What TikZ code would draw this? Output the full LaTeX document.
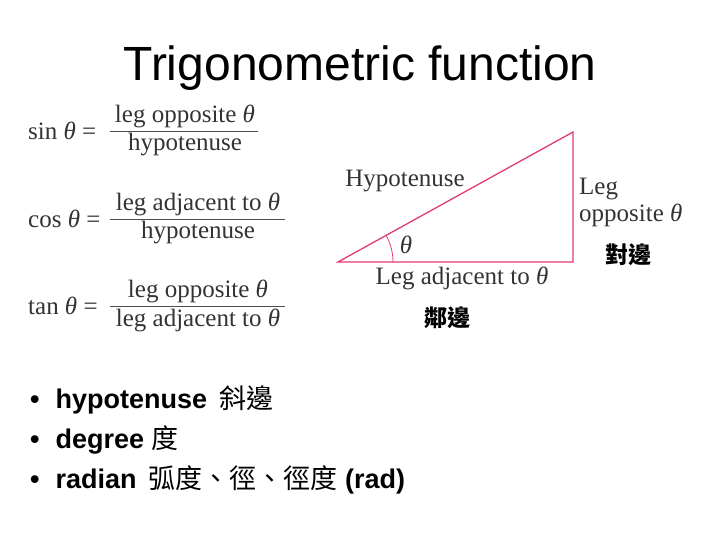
\documentclass[tikz,border=0pt]{standalone}
\usepackage{fontspec}
\setmainfont{Liberation Serif}
\newfontfamily\arialf{Liberation Sans}
\newfontfamily\cjk{Noto Sans CJK TC}
\begin{document}
\begin{tikzpicture}[x=1pt,y=-1pt,
  frm/.style={font=\fontsize{25}{27}\selectfont, text=black!80, inner sep=0pt},
  tri/.style={draw={rgb,255:red,225;green,60;blue,110}, line width=1.3pt},
  lbl/.style={font=\fontsize{25}{27}\selectfont, text=black!80, inner sep=0pt},
  blt/.style={font=\arialf\bfseries\fontsize{27}{29}\selectfont, anchor=west, inner sep=0pt}]
\useasboundingbox (0,0) rectangle (720,540);
\node[font=\arialf\fontsize{48}{50}\selectfont] (title) at (360,68) {Trigonometric function};
% sin
\node[frm, anchor=west] (sinl) at (28,131) {sin \textit{θ} =};
\node[frm] (sinn) at (185,116) {leg opposite \textit{θ}};
\node[frm] (sind) at (185,145) {hypotenuse};
\draw[black!70, line width=0.8pt] (110,131) -- (258,131);
% cos
\node[frm, anchor=west] (cosl) at (28,219) {cos \textit{θ} =};
\node[frm] (cosn) at (198,204) {leg adjacent to \textit{θ}};
\node[frm] (cosd) at (198,233) {hypotenuse};
\draw[black!70, line width=0.8pt] (110,219) -- (285,219);
% tan
\node[frm, anchor=west] (tanl) at (28,306) {tan \textit{θ} =};
\node[frm] (tann) at (198,291) {leg opposite \textit{θ}};
\node[frm] (tand) at (198,320) {leg adjacent to \textit{θ}};
\draw[black!70, line width=0.8pt] (110,306) -- (285,306);
% triangle
\coordinate (A) at (338,262);
\coordinate (B) at (573,262);
\coordinate (C) at (573,132);
\draw[tri] (A) -- (B) -- (C) -- cycle;
\draw[tri, line width=0.8pt] (393,262) arc[start angle=0, end angle=-29, radius=55];
\node[lbl] (th) at (406,245) {\textit{θ}};
\node[lbl] (hyp) at (405,181) {Hypotenuse};
\node[lbl, anchor=west] (leg) at (579,189) {Leg};
\node[lbl, anchor=west] (opp) at (579,215) {opposite \textit{θ}};
\node[lbl] (adj) at (462,278) {Leg adjacent to \textit{θ}};
\node[font=\cjk\bfseries\fontsize{23}{25}\selectfont] (dui) at (628,255) {對邊};
\node[font=\cjk\bfseries\fontsize{23}{25}\selectfont] (lin) at (447,318) {鄰邊};
% bullets
\node[blt] (b1) at (30,400) {•\hspace{16pt}hypotenuse \,{\cjk\mdseries 斜邊}};
\node[blt] (b2) at (30,440) {•\hspace{16pt}degree {\cjk\mdseries 度}};
\node[blt] (b3) at (30,480) {•\hspace{16pt}radian \,{\cjk\mdseries 弧度、徑、徑度} (rad)};
\end{tikzpicture}
\end{document}
